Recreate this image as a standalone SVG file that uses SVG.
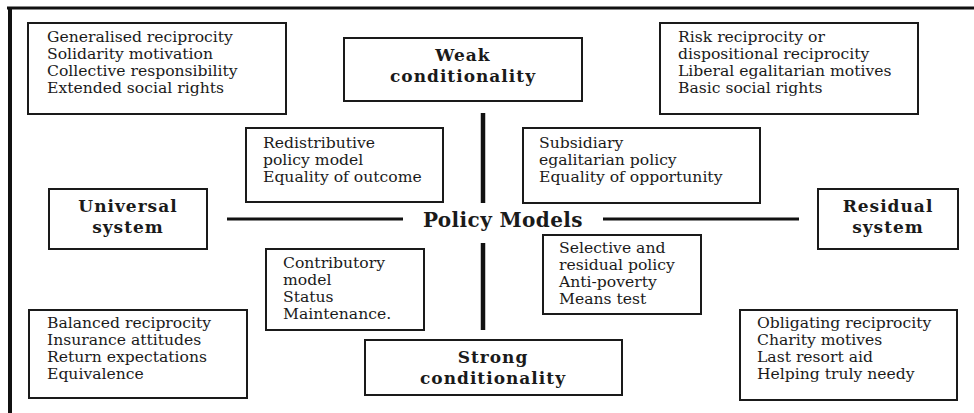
<svg xmlns="http://www.w3.org/2000/svg" width="974" height="413" viewBox="0 0 974 413">
  <style>
    .box { fill: #ffffff; stroke: #1a1a1a; stroke-width: 2; }
    .txt { font-family: "DejaVu Serif", "Liberation Serif", serif; font-size: 15.6px; fill: #1a1a1a; }
    .hd { font-family: "DejaVu Serif", "Liberation Serif", serif; font-size: 17px; font-weight: bold; fill: #1a1a1a; text-anchor: middle; letter-spacing: 1px; }
    .axis { stroke: #111111; fill: none; }
  </style>
  <rect width="974" height="413" fill="#ffffff"/>

  <!-- outer frame -->
  <g id="frame" class="axis">
    <line x1="7" y1="8" x2="974" y2="8" stroke-width="3"/>
    <line x1="10" y1="7" x2="10" y2="413" stroke-width="4"/>
  </g>

  <!-- axes -->
  <g id="connectors" class="axis">
    <line x1="483" y1="113" x2="483" y2="203" stroke-width="4.5"/>
    <line x1="483" y1="243" x2="483" y2="330" stroke-width="4.5"/>
    <line x1="227" y1="219" x2="403" y2="219" stroke-width="3"/>
    <line x1="603" y1="219" x2="799" y2="219" stroke-width="3"/>
  </g>

  <g id="center">
    <text x="503" y="227" class="hd" style="font-size:20px;letter-spacing:0.4px">Policy Models</text>
  </g>

  <g id="weak">
    <rect class="box" x="344" y="38" width="238" height="63"/>
    <text x="463" y="61" class="hd">Weak</text>
    <text x="463" y="82" class="hd">conditionality</text>
  </g>

  <g id="strong">
    <rect class="box" x="365" y="340" width="257" height="55"/>
    <text x="493" y="363" class="hd">Strong</text>
    <text x="493" y="384" class="hd">conditionality</text>
  </g>

  <g id="universal">
    <rect class="box" x="49" y="189" width="158" height="60"/>
    <text x="128" y="212" class="hd">Universal</text>
    <text x="128" y="233" class="hd">system</text>
  </g>

  <g id="residual">
    <rect class="box" x="818" y="189" width="140" height="60"/>
    <text x="888" y="212" class="hd">Residual</text>
    <text x="888" y="233" class="hd">system</text>
  </g>

  <g id="generalised">
    <rect class="box" x="28" y="23" width="258" height="91"/>
    <text class="txt" x="47" y="42">Generalised reciprocity</text>
    <text class="txt" x="47" y="59">Solidarity motivation</text>
    <text class="txt" x="47" y="76">Collective responsibility</text>
    <text class="txt" x="47" y="93">Extended social rights</text>
  </g>

  <g id="risk">
    <rect class="box" x="660" y="23" width="258" height="91"/>
    <text class="txt" x="678" y="42">Risk reciprocity or</text>
    <text class="txt" x="678" y="59">dispositional reciprocity</text>
    <text class="txt" x="678" y="76">Liberal egalitarian motives</text>
    <text class="txt" x="678" y="93">Basic social rights</text>
  </g>

  <g id="redistributive">
    <rect class="box" x="246" y="128" width="197" height="74"/>
    <text class="txt" x="263" y="148">Redistributive</text>
    <text class="txt" x="263" y="165">policy model</text>
    <text class="txt" x="263" y="182">Equality of outcome</text>
  </g>

  <g id="subsidiary">
    <rect class="box" x="523" y="128" width="237" height="75"/>
    <text class="txt" x="539" y="148">Subsidiary</text>
    <text class="txt" x="539" y="165">egalitarian policy</text>
    <text class="txt" x="539" y="182">Equality of opportunity</text>
  </g>

  <g id="contributory">
    <rect class="box" x="266" y="249" width="158" height="81"/>
    <text class="txt" x="283" y="268">Contributory</text>
    <text class="txt" x="283" y="285">model</text>
    <text class="txt" x="283" y="302">Status</text>
    <text class="txt" x="283" y="319">Maintenance.</text>
  </g>

  <g id="selective">
    <rect class="box" x="543" y="235" width="158" height="79"/>
    <text class="txt" x="559" y="253">Selective and</text>
    <text class="txt" x="559" y="270">residual policy</text>
    <text class="txt" x="559" y="287">Anti-poverty</text>
    <text class="txt" x="559" y="304">Means test</text>
  </g>

  <g id="balanced">
    <rect class="box" x="29" y="310" width="218" height="88"/>
    <text class="txt" x="47" y="328">Balanced reciprocity</text>
    <text class="txt" x="47" y="345">Insurance attitudes</text>
    <text class="txt" x="47" y="362">Return expectations</text>
    <text class="txt" x="47" y="379">Equivalence</text>
  </g>

  <g id="obligating">
    <rect class="box" x="740" y="310" width="217" height="90"/>
    <text class="txt" x="757" y="328">Obligating reciprocity</text>
    <text class="txt" x="757" y="345">Charity motives</text>
    <text class="txt" x="757" y="362">Last resort aid</text>
    <text class="txt" x="757" y="379">Helping truly needy</text>
  </g>
</svg>
